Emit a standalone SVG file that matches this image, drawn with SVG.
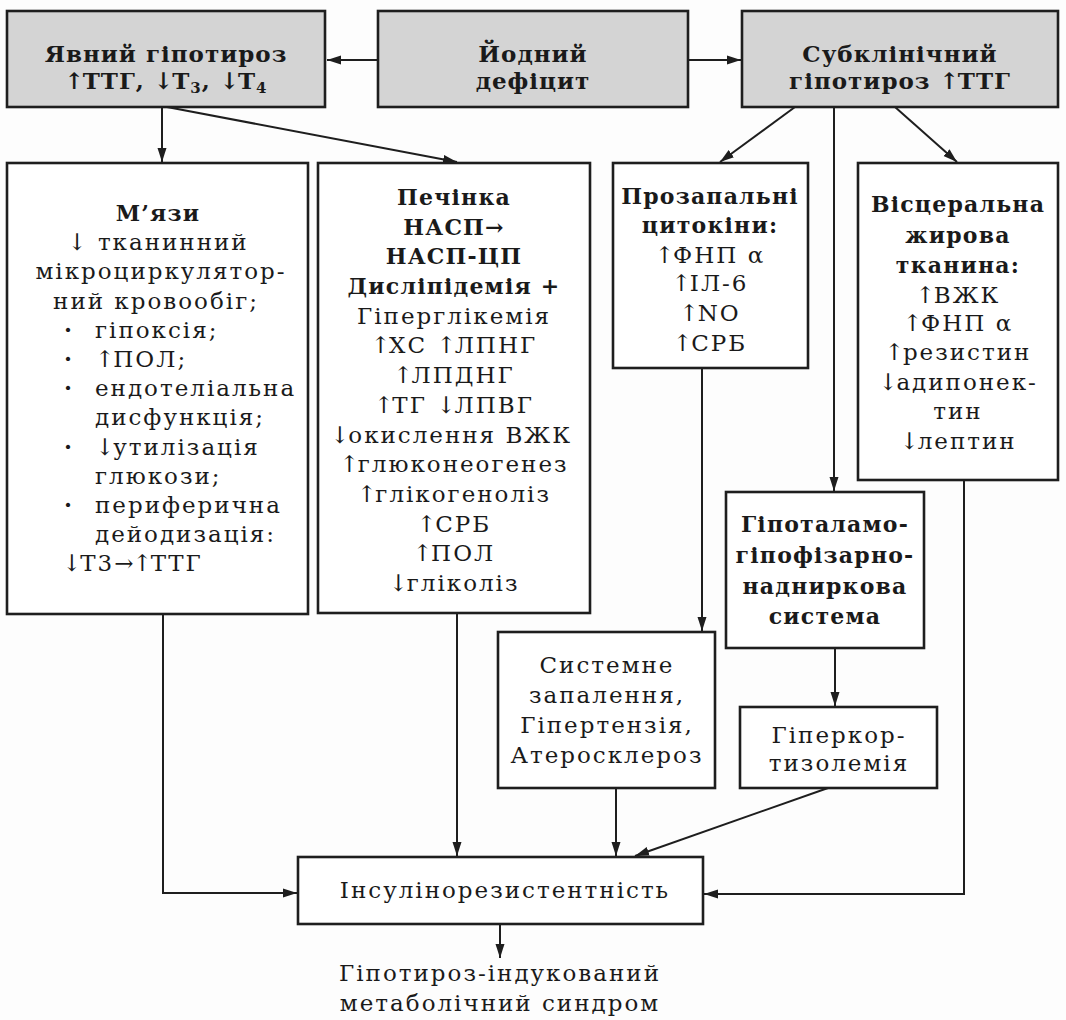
<svg xmlns="http://www.w3.org/2000/svg" width="1066" height="1020" viewBox="0 0 1066 1020">
<defs>
<style>
.box{fill:#ffffff;stroke:#1e1e1e;stroke-width:2.6}
.gbox{fill:#d4d4d4;stroke:#1e1e1e;stroke-width:2.6}
.ln{fill:none;stroke:#1e1e1e;stroke-width:2}
text{font-family:"DejaVu Serif","Liberation Serif",serif;font-size:23px;fill:#1a1a1a;letter-spacing:2px}
.c{text-anchor:middle}
.b{font-weight:bold;font-size:22px;letter-spacing:1.2px}
.t{font-size:23px;letter-spacing:1px}
.sub{font-size:15px}
.a{letter-spacing:-1px}
.d{font-weight:bold}
</style>
<marker id="ah" markerWidth="15" markerHeight="10" refX="14" refY="5" orient="auto" markerUnits="userSpaceOnUse">
<path d="M0,0.5 L14,5 L0,9.5 z" fill="#1e1e1e"/>
</marker>
</defs>
<rect x="0" y="0" width="1066" height="1020" fill="#fdfdfd"/>

<g id="connectors">
<line class="ln" x1="378" y1="60" x2="327" y2="60" marker-end="url(#ah)"/>
<line class="ln" x1="688" y1="60" x2="741" y2="60" marker-end="url(#ah)"/>
<line class="ln" x1="162" y1="107" x2="162" y2="162" marker-end="url(#ah)"/>
<line class="ln" x1="167" y1="107" x2="457" y2="162" marker-end="url(#ah)"/>
<line class="ln" x1="795" y1="107" x2="720" y2="162" marker-end="url(#ah)"/>
<line class="ln" x1="834" y1="107" x2="834" y2="491" marker-end="url(#ah)"/>
<line class="ln" x1="895" y1="107" x2="957" y2="162" marker-end="url(#ah)"/>
<line class="ln" x1="702" y1="368" x2="702" y2="631" marker-end="url(#ah)"/>
<line class="ln" x1="835" y1="648" x2="835" y2="706" marker-end="url(#ah)"/>
<polyline class="ln" points="163,614 163,893 297,893" marker-end="url(#ah)"/>
<line class="ln" x1="457" y1="613" x2="457" y2="856" marker-end="url(#ah)"/>
<line class="ln" x1="616" y1="788" x2="616" y2="856" marker-end="url(#ah)"/>
<line class="ln" x1="828" y1="788" x2="635" y2="856" marker-end="url(#ah)"/>
<polyline class="ln" points="964,480 964,894 704,894" marker-end="url(#ah)"/>
<line class="ln" x1="500" y1="924" x2="500" y2="958" marker-end="url(#ah)"/>
</g>

<g id="yavnyi">
<rect class="gbox" x="7" y="11" width="318" height="96"/>
<text class="c b t" x="166" y="62">Явний гіпотироз</text>
<text class="c b t" x="166" y="89"><tspan class="a">↑</tspan>ТТГ, <tspan class="a">↓</tspan>Т<tspan class="sub" dy="4">3</tspan><tspan dy="-4">, </tspan><tspan class="a">↓</tspan>Т<tspan class="sub" dy="4">4</tspan></text>
</g>

<g id="yodnyi">
<rect class="gbox" x="378" y="11" width="310" height="96"/>
<text class="c b t" x="533" y="62">Йодний</text>
<text class="c b t" x="533" y="89">дефіцит</text>
</g>

<g id="subklin">
<rect class="gbox" x="742" y="11" width="316" height="96"/>
<text class="c b t" x="900" y="62">Субклінічний</text>
<text class="c b t" x="900" y="89">гіпотироз <tspan class="a">↑</tspan>ТТГ</text>
</g>

<g id="myazy">
<rect class="box" x="7" y="163" width="301" height="451"/>
<text class="c b" x="158" y="221">М’язи</text>
<text class="c" x="158" y="250">↓ тканинний</text>
<text class="c" x="161" y="279">мікроциркулятор-</text>
<text class="c" x="156" y="309">ний кровообіг;</text>
<text class="d" x="64" y="338">·</text><text x="95" y="338">гіпоксія;</text>
<text class="d" x="64" y="367">·</text><text x="95" y="367"><tspan class="a">↑</tspan>ПОЛ;</text>
<text class="d" x="64" y="396">·</text><text x="95" y="396">ендотеліальна</text>
<text x="95" y="425">дисфункція;</text>
<text class="d" x="64" y="455">·</text><text x="95" y="455"><tspan class="a">↓</tspan>утилізація</text>
<text x="95" y="484">глюкози;</text>
<text class="d" x="64" y="513">·</text><text x="95" y="513">периферична</text>
<text x="95" y="542">дейодизація:</text>
<text x="62" y="571"><tspan class="a">↓</tspan>Т3<tspan class="a">→↑</tspan>ТТГ</text>
</g>

<g id="pechinka">
<rect class="box" x="318" y="163" width="272" height="450"/>
<text class="c b" x="454" y="205">Печінка</text>
<text class="c b" x="454" y="235">НАСП→</text>
<text class="c b" x="454" y="264">НАСП-ЦП</text>
<text class="c b" x="454" y="294">Дисліпідемія +</text>
<text class="c" x="454" y="324">Гіперглікемія</text>
<text class="c" x="454" y="353"><tspan class="a">↑</tspan>ХС <tspan class="a">↑</tspan>ЛПНГ</text>
<text class="c" x="454" y="383"><tspan class="a">↑</tspan>ЛПДНГ</text>
<text class="c" x="454" y="413"><tspan class="a">↑</tspan>ТГ <tspan class="a">↓</tspan>ЛПВГ</text>
<text class="c" x="451" y="443"><tspan class="a">↓</tspan>окислення ВЖК</text>
<text class="c" x="454" y="472"><tspan class="a">↑</tspan>глюконеогенез</text>
<text class="c" x="454" y="502"><tspan class="a">↑</tspan>глікогеноліз</text>
<text class="c" x="454" y="532"><tspan class="a">↑</tspan>СРБ</text>
<text class="c" x="454" y="561"><tspan class="a">↑</tspan>ПОЛ</text>
<text class="c" x="454" y="591"><tspan class="a">↓</tspan>гліколіз</text>
</g>

<g id="tsytokiny">
<rect class="box" x="613" y="163" width="195" height="205"/>
<text class="c b" x="710" y="204">Прозапальні</text>
<text class="c b" x="710" y="233">цитокіни:</text>
<text class="c" x="710" y="263"><tspan class="a">↑</tspan>ФНП α</text>
<text class="c" x="710" y="291"><tspan class="a">↑</tspan>ІЛ-6</text>
<text class="c" x="710" y="321"><tspan class="a">↑</tspan>NO</text>
<text class="c" x="710" y="351"><tspan class="a">↑</tspan>СРБ</text>
</g>

<g id="vistseralna">
<rect class="box" x="858" y="163" width="200" height="317"/>
<text class="c b" x="958" y="212">Вісцеральна</text>
<text class="c b" x="958" y="243">жирова</text>
<text class="c b" x="958" y="273">тканина:</text>
<text class="c" x="958" y="303"><tspan class="a">↑</tspan>ВЖК</text>
<text class="c" x="958" y="331"><tspan class="a">↑</tspan>ФНП α</text>
<text class="c" x="958" y="360"><tspan class="a">↑</tspan>резистин</text>
<text class="c" x="958" y="390"><tspan class="a">↓</tspan>адипонек-</text>
<text class="c" x="958" y="419">тин</text>
<text class="c" x="958" y="449"><tspan class="a">↓</tspan>лептин</text>
</g>

<g id="hipotalamo">
<rect class="box" x="726" y="492" width="198" height="156"/>
<text class="c b" x="825" y="532">Гіпоталамо-</text>
<text class="c b" x="825" y="563">гіпофізарно-</text>
<text class="c b" x="825" y="594">надниркова</text>
<text class="c b" x="825" y="624">система</text>
</g>

<g id="systemne">
<rect class="box" x="498" y="632" width="217" height="156"/>
<text class="c" x="607" y="673">Системне</text>
<text class="c" x="607" y="703">запалення,</text>
<text class="c" x="607" y="733">Гіпертензія,</text>
<text class="c" x="607" y="763">Атеросклероз</text>
</g>

<g id="hiperkort">
<rect class="box" x="740" y="707" width="197" height="81"/>
<text class="c" x="839" y="743">Гіперкор-</text>
<text class="c" x="839" y="771">тизолемія</text>
</g>

<g id="insulin">
<rect class="box" x="298" y="857" width="405" height="67"/>
<text class="c" x="505" y="898">Інсулінорезистентність</text>
</g>

<g id="syndrom">
<text class="c" x="500" y="981">Гіпотироз-індукований</text>
<text class="c" x="500" y="1011">метаболічний синдром</text>
</g>
</svg>
